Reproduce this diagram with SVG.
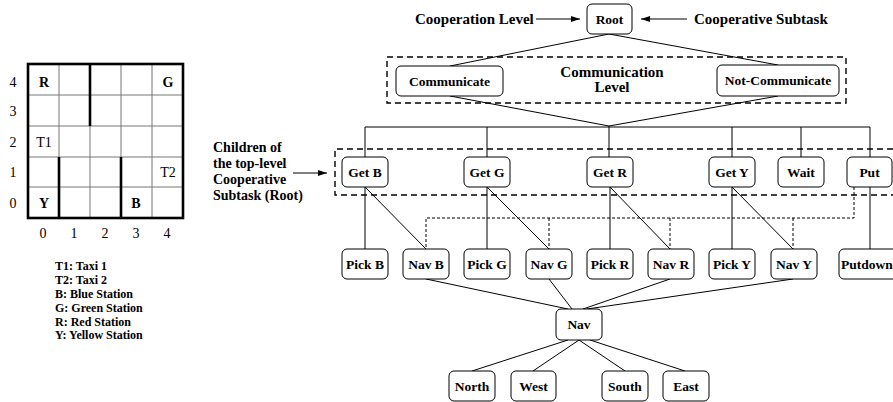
<svg xmlns="http://www.w3.org/2000/svg" width="893" height="402" viewBox="0 0 893 402">
<style>
.box{fill:#fff;stroke:#000;stroke-width:1}
.t{font-family:"Liberation Serif",serif;font-weight:bold;font-size:13.5px;text-anchor:middle}
.lbl{font-family:"Liberation Serif",serif;font-weight:bold;font-size:15px}
.side{font-family:"Liberation Serif",serif;font-weight:bold;font-size:14px}
.leg{font-family:"Liberation Serif",serif;font-weight:bold;font-size:12px}
.num{font-family:"Liberation Serif",serif;font-size:14px;text-anchor:middle}
.cell{font-family:"Liberation Serif",serif;font-size:14px;text-anchor:middle}
.ln{stroke:#000;stroke-width:1;fill:none}
.dash{stroke:#000;stroke-width:1.4;fill:none;stroke-dasharray:6,4}
.dot{stroke:#000;stroke-width:1;fill:none;stroke-dasharray:3,2}
.thin{stroke:#777;stroke-width:1}
.thick{stroke:#000;stroke-width:2.6;fill:none}
</style>
<defs>
<marker id="ah" markerWidth="10" markerHeight="8" refX="9" refY="4" orient="auto" markerUnits="userSpaceOnUse">
<path d="M0,1 L9,4 L0,7 Z" fill="#000"/>
</marker>
</defs>
<rect width="893" height="402" fill="#fff"/>

<!-- Grid world -->
<g id="grid">
<line class="thin" x1="59" y1="64" x2="59" y2="218"/>
<line class="thin" x1="90" y1="64" x2="90" y2="218"/>
<line class="thin" x1="121" y1="64" x2="121" y2="218"/>
<line class="thin" x1="152" y1="64" x2="152" y2="218"/>
<line class="thin" x1="28" y1="95" x2="183" y2="95"/>
<line class="thin" x1="28" y1="126" x2="183" y2="126"/>
<line class="thin" x1="28" y1="157" x2="183" y2="157"/>
<line class="thin" x1="28" y1="187" x2="183" y2="187"/>
<line class="thick" x1="90" y1="64" x2="90" y2="126"/>
<line class="thick" x1="59" y1="157" x2="59" y2="218"/>
<line class="thick" x1="121" y1="157" x2="121" y2="218"/>
<rect class="thick" x="28" y="64" width="155" height="154"/>
<text class="num" x="13" y="87">4</text>
<text class="num" x="13" y="116">3</text>
<text class="num" x="13" y="147">2</text>
<text class="num" x="13" y="177">1</text>
<text class="num" x="13" y="208">0</text>
<text class="num" x="43" y="238">0</text>
<text class="num" x="74" y="238">1</text>
<text class="num" x="105" y="238">2</text>
<text class="num" x="136" y="238">3</text>
<text class="num" x="167" y="238">4</text>
<text class="cell" x="44" y="87" font-weight="bold">R</text>
<text class="cell" x="168" y="87" font-weight="bold">G</text>
<text class="cell" x="44" y="147">T1</text>
<text class="cell" x="168" y="177">T2</text>
<text class="cell" x="44" y="208" font-weight="bold">Y</text>
<text class="cell" x="136" y="208" font-weight="bold">B</text>
</g>
<g id="legend">
<text class="leg" x="55" y="270">T1: Taxi 1</text>
<text class="leg" x="55" y="284">T2: Taxi 2</text>
<text class="leg" x="55" y="298">B: Blue Station</text>
<text class="leg" x="55" y="312">G: Green Station</text>
<text class="leg" x="55" y="326">R: Red Station</text>
<text class="leg" x="55" y="339">Y: Yellow Station</text>
</g>

<!-- annotations -->
<g id="annotations">
<text class="lbl" x="415" y="24">Cooperation Level</text>
<line class="ln" x1="536" y1="19" x2="580" y2="19" marker-end="url(#ah)"/>
<text class="lbl" x="694" y="24">Cooperative Subtask</text>
<line class="ln" x1="687" y1="19" x2="641" y2="19" marker-end="url(#ah)"/>
<text class="lbl" x="612" y="77" text-anchor="middle">Communication</text>
<text class="lbl" x="612" y="92" text-anchor="middle">Level</text>
<text class="side" x="213" y="152">Children of</text>
<text class="side" x="213" y="168">the top-level</text>
<text class="side" x="213" y="184">Cooperative</text>
<text class="side" x="213" y="200">Subtask (Root)</text>
<line class="ln" x1="293" y1="173" x2="327" y2="173" marker-end="url(#ah)"/>
<rect class="dash" x="387" y="57" width="459" height="46"/>
<path class="dash" d="M893,149 H335 V195 H893"/>
</g>

<!-- connectors -->
<g id="connectors">
<path class="ln" d="M609,34 L450,66 M609,34 L778,65"/>
<path class="ln" d="M450,96 L609,126 L778,96 M609,126 V157"/>
<path class="ln" d="M365,157 V127 H870 V157 M487,127 V157 M732,127 V157 M801,127 V157"/>
<path class="ln" d="M365,187 V249 M365,187 L426,249"/>
<path class="ln" d="M487,187 V249 M487,187 L549,249"/>
<path class="ln" d="M610,187 V249 M610,187 L670,249"/>
<path class="ln" d="M732,187 V249 M732,187 L793,249"/>
<path class="ln" d="M870,187 V249"/>
<path class="dot" d="M854,187 V218 H426 V249 M549,218 V249 M670,218 V249 M793,218 V249"/>
<path class="ln" d="M426,279 L568,309 M549,279 L572,309 M670,279 L583,309 M793,279 L587,309"/>
<path class="ln" d="M568,340 L472,371 M579,340 L533,371 M579,340 L625,371 M590,340 L685,371"/>
</g>

<!-- nodes -->
<g id="root"><rect class="box" x="587" y="4" width="45" height="30" rx="5"/><text class="t" x="609.5" y="24">Root</text></g>
<g id="communicate"><rect class="box" x="396" y="66" width="107" height="30" rx="5"/><text class="t" x="449.5" y="86">Communicate</text></g>
<g id="not-communicate"><rect class="box" x="717" y="65" width="122" height="31" rx="5"/><text class="t" x="778" y="85">Not-Communicate</text></g>
<g id="get-b"><rect class="box" x="342" y="157" width="46" height="30" rx="5"/><text class="t" x="365" y="177">Get B</text></g>
<g id="get-g"><rect class="box" x="464" y="157" width="46" height="30" rx="5"/><text class="t" x="487" y="177">Get G</text></g>
<g id="get-r"><rect class="box" x="587" y="157" width="46" height="30" rx="5"/><text class="t" x="610" y="177">Get R</text></g>
<g id="get-y"><rect class="box" x="709" y="157" width="46" height="30" rx="5"/><text class="t" x="732" y="177">Get Y</text></g>
<g id="wait"><rect class="box" x="778" y="157" width="46" height="30" rx="5"/><text class="t" x="801" y="177">Wait</text></g>
<g id="put"><rect class="box" x="847" y="157" width="45" height="30" rx="5"/><text class="t" x="869.5" y="177">Put</text></g>
<g id="pick-b"><rect class="box" x="342" y="249" width="46" height="30" rx="5"/><text class="t" x="365" y="269">Pick B</text></g>
<g id="nav-b"><rect class="box" x="403" y="249" width="46" height="30" rx="5"/><text class="t" x="426" y="269">Nav B</text></g>
<g id="pick-g"><rect class="box" x="464" y="249" width="46" height="30" rx="5"/><text class="t" x="487" y="269">Pick G</text></g>
<g id="nav-g"><rect class="box" x="526" y="249" width="46" height="30" rx="5"/><text class="t" x="549" y="269">Nav G</text></g>
<g id="pick-r"><rect class="box" x="587" y="249" width="46" height="30" rx="5"/><text class="t" x="610" y="269">Pick R</text></g>
<g id="nav-r"><rect class="box" x="648" y="249" width="46" height="30" rx="5"/><text class="t" x="671" y="269">Nav R</text></g>
<g id="pick-y"><rect class="box" x="709" y="249" width="46" height="30" rx="5"/><text class="t" x="732" y="269">Pick Y</text></g>
<g id="nav-y"><rect class="box" x="771" y="249" width="46" height="30" rx="5"/><text class="t" x="794" y="269">Nav Y</text></g>
<g id="putdown"><rect class="box" x="839" y="249" width="62" height="30" rx="5"/><text class="t" x="867" y="269">Putdown</text></g>
<g id="nav"><rect class="box" x="556" y="309" width="46" height="31" rx="5"/><text class="t" x="579" y="329">Nav</text></g>
<g id="north"><rect class="box" x="449" y="371" width="46" height="30" rx="5"/><text class="t" x="472" y="391">North</text></g>
<g id="west"><rect class="box" x="511" y="371" width="45" height="30" rx="5"/><text class="t" x="533.5" y="391">West</text></g>
<g id="south"><rect class="box" x="602" y="371" width="46" height="30" rx="5"/><text class="t" x="625" y="391">South</text></g>
<g id="east"><rect class="box" x="663" y="371" width="46" height="30" rx="5"/><text class="t" x="686" y="391">East</text></g>
</svg>
